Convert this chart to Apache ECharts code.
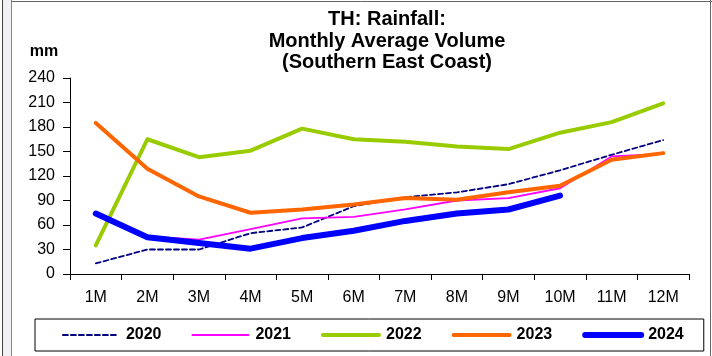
<!DOCTYPE html>
<html>
<head>
<meta charset="utf-8">
<script src="https://cdn.jsdelivr.net/npm/echarts@6/dist/echarts.min.js"></script>
<style>
html,body{margin:0;padding:0;background:#fff;}
#chart{width:712px;height:356px;}
</style>
</head>
<body>
<div id="chart"></div>
<script>
const months = ['1M','2M','3M','4M','5M','6M','7M','8M','9M','10M','11M','12M'];
const years = ['2020','2021','2022','2023','2024'];
const y2020 = [13,30,30,50,57,83,94,100,110,127,146,164];
const y2021 = [72,46,42,55,68,70,79,90,93,105,144,147];
const y2022 = [35,165,143,151,178,165,162,156,153,173,186,209];
const y2023 = [185,129,95,75,79,85,93,91,100,108,140,148];
const y2024 = [74,45,38,31,44,53,65,74,79,96];
const titleLines = ['TH: Rainfall:','Monthly Average Volume','(Southern East Coast)'];
const unitLabel = 'mm';

const FONT = '"Liberation Sans", Arial, sans-serif';
const chart = echarts.init(document.getElementById('chart'), null, {renderer:'canvas'});

const colors = ['#000080','#FF00FF','#99CC00','#FF6600','#0000FF'];
const widths = [1.8,1.8,4,4,6];
const types = [[5,3],'solid','solid','solid','solid'];
const seriesData = [y2020,y2021,y2022,y2023,y2024];

function txt(t, x, y, size){
  return {type:'text', x:x, y:y, silent:true,
    style:{text:t, fill:'#000', font:'bold '+size+'px '+FONT,
      align:'center', verticalAlign:'middle', textAlign:'center', textVerticalAlign:'middle'}};
}

const option = {
  animation:false,
  backgroundColor:'#fff',
  grid:{left:70, right:23, top:78, bottom:82},
  xAxis:{type:'category', data:months, boundaryGap:true,
    axisLine:{lineStyle:{color:'#000', width:1}},
    axisTick:{show:true, length:6, lineStyle:{color:'#000'}},
    axisLabel:{color:'#000', fontSize:16, fontFamily:FONT, margin:16},
    splitLine:{show:false}},
  yAxis:{type:'value', min:0, max:240, interval:30,
    axisLine:{show:true, lineStyle:{color:'#000', width:1}},
    axisTick:{show:true, length:7, lineStyle:{color:'#000'}},
    axisLabel:{color:'#000', fontSize:16, fontFamily:FONT, margin:15},
    splitLine:{show:false}},
  legend:{left:35, top:319, orient:'horizontal',
    data: years.map((y,i)=>({name:y, lineStyle:{width:widths[i], cap:'round'}})),
    borderColor:'#000', borderWidth:1, padding:[8,20,8,27],
    itemWidth:56, itemHeight:14, itemGap:30,
    itemStyle:{opacity:0},
    textStyle:{color:'#000', fontSize:16, fontWeight:'bold', fontFamily:FONT, padding:[0,0,0,2]}},
  series: years.map((y,i)=>({name:y, type:'line', data:seriesData[i], symbol:'none', smooth:false,
    lineStyle:{color:colors[i], width:widths[i], type:types[i], cap:'round', join:'round'},
    itemStyle:{color:colors[i]}, emphasis:{disabled:true}})),
  graphic:[
    {type:'rect', silent:true, shape:{x:3, y:0, width:8, height:356}, style:{fill:'#f2f2f6'}},
    {type:'line', silent:true, shape:{x1:2.5, y1:0, x2:2.5, y2:356}, style:{stroke:'#444', lineWidth:1}},
    {type:'line', silent:true, shape:{x1:11.5, y1:0, x2:11.5, y2:356}, style:{stroke:'#888', lineWidth:1}},
    {type:'line', silent:true, shape:{x1:11, y1:1.5, x2:712, y2:1.5}, style:{stroke:'#666', lineWidth:1}},
    {type:'line', silent:true, shape:{x1:710.5, y1:0, x2:710.5, y2:356}, style:{stroke:'#666', lineWidth:1}},
    txt(titleLines[0], 387, 19, 20),
    txt(titleLines[1], 387, 41, 20),
    txt(titleLines[2], 387, 62, 20),
    txt(unitLabel, 44, 52, 16)
  ]
};
chart.setOption(option);
</script>
</body>
</html>
